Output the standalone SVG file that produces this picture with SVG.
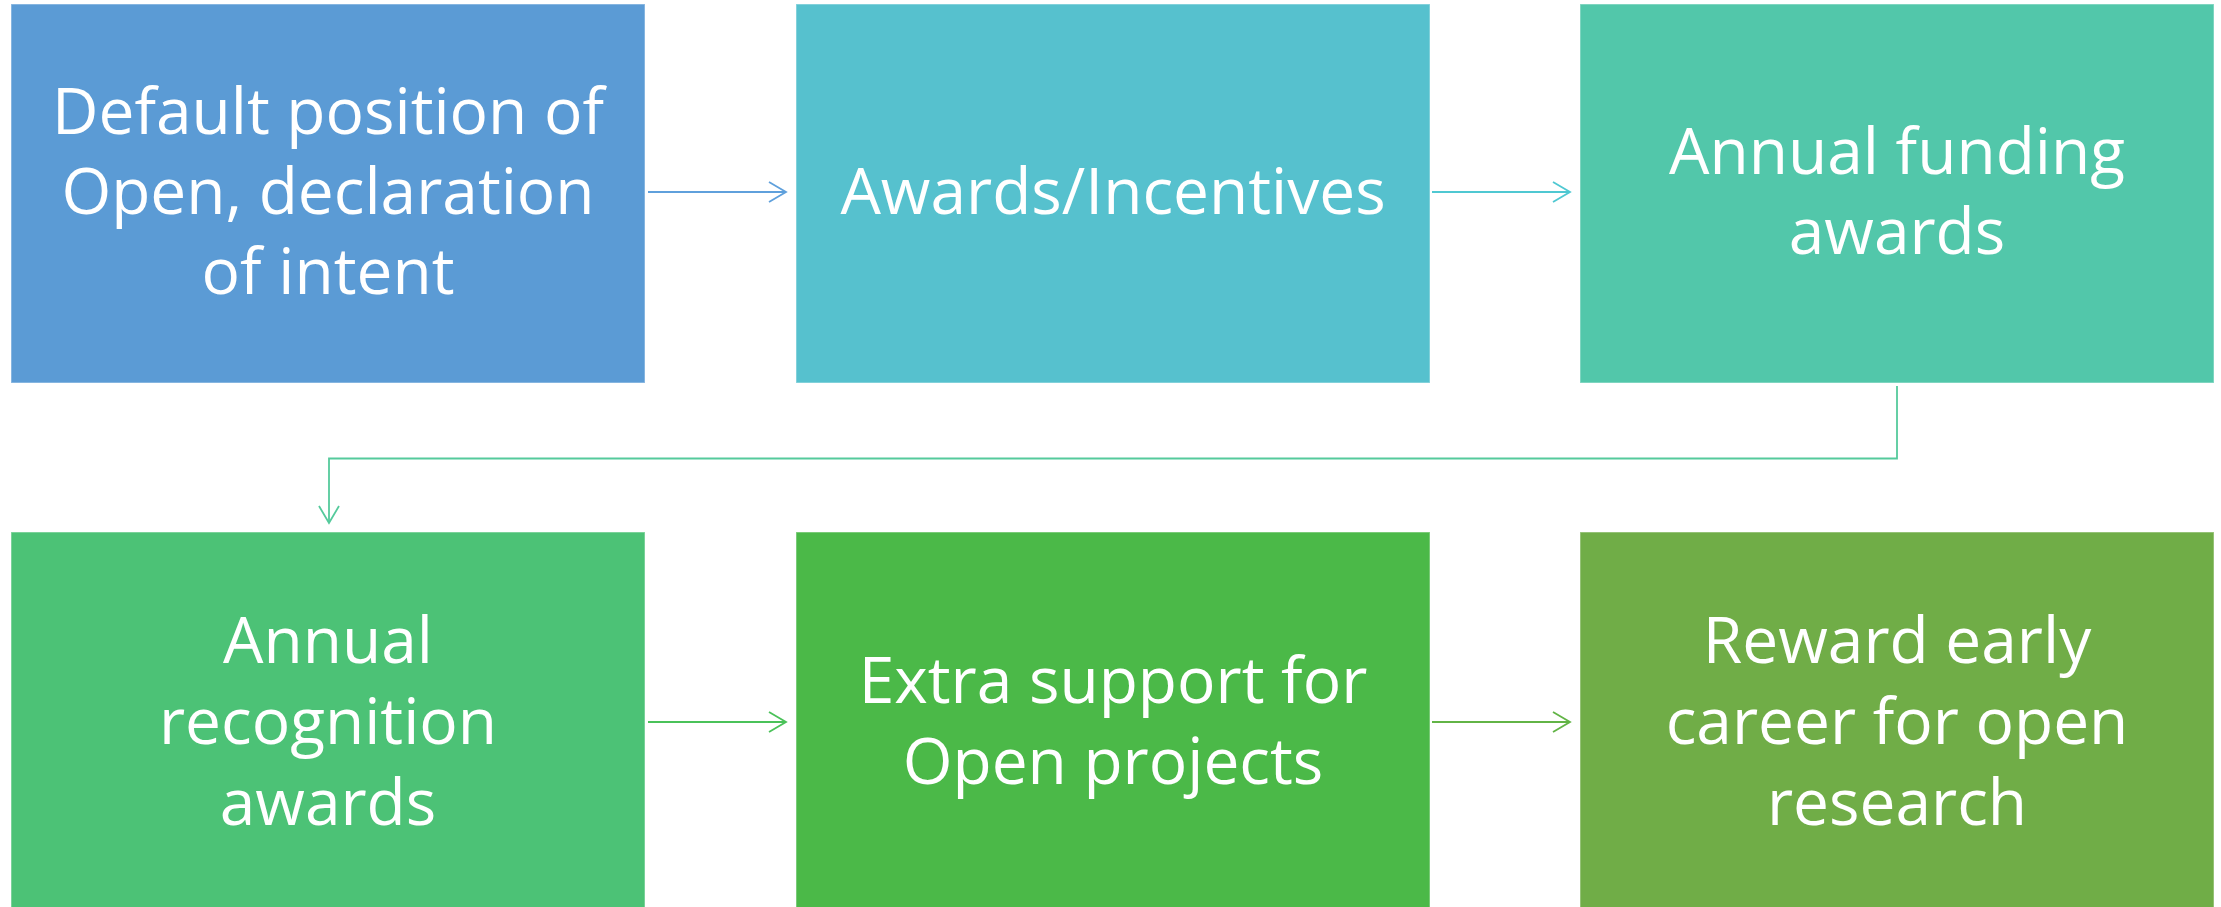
<svg xmlns="http://www.w3.org/2000/svg" width="2221" height="907" viewBox="0 0 2221 907">
  <style>
    .box { stroke: #ffffff; stroke-opacity: 0.35; stroke-width: 1.5; }
    .label { font-family: "Open Sans", "Liberation Sans", sans-serif; font-weight: 400; font-size: 64px; fill: #ffffff; text-anchor: middle; }
    .conn { fill: none; stroke-width: 1.8; }
    .head { fill: none; stroke-width: 1.8; stroke-linejoin: miter; }
  </style>
  <rect width="2221" height="907" fill="#ffffff"/>

  <!-- process steps, top row left to right, then bottom row -->
  <g id="node-default-position">
    <rect class="box" x="11" y="4" width="634" height="379" fill="#5B9BD5"/>
    <text class="label"><tspan x="328" y="134">Default position of</tspan><tspan x="328" y="214">Open, declaration</tspan><tspan x="328" y="294">of intent</tspan></text>
  </g>
  <g id="node-awards-incentives">
    <rect class="box" x="796" y="4" width="634" height="379" fill="#56C1CE"/>
    <text class="label"><tspan x="1113" y="214">Awards/Incentives</tspan></text>
  </g>
  <g id="node-annual-funding">
    <rect class="box" x="1580" y="4" width="634" height="379" fill="#52C7AA"/>
    <text class="label"><tspan x="1897" y="174">Annual funding</tspan><tspan x="1897" y="254">awards</tspan></text>
  </g>
  <g id="node-annual-recognition">
    <rect class="box" x="11" y="532" width="634" height="379" fill="#4CC276"/>
    <text class="label"><tspan x="328" y="663">Annual</tspan><tspan x="328" y="744">recognition</tspan><tspan x="328" y="825">awards</tspan></text>
  </g>
  <g id="node-extra-support">
    <rect class="box" x="796" y="532" width="634" height="379" fill="#4BB948"/>
    <text class="label"><tspan x="1113" y="703">Extra support for</tspan><tspan x="1113" y="784">Open projects</tspan></text>
  </g>
  <g id="node-reward-early-career">
    <rect class="box" x="1580" y="532" width="634" height="379" fill="#70AD47"/>
    <text class="label"><tspan x="1897" y="663">Reward early</tspan><tspan x="1897" y="744">career for open</tspan><tspan x="1897" y="825">research</tspan></text>
  </g>

  <!-- connectors with open chevron heads -->
  <g id="connectors">
    <g stroke="#5FA0DC">
      <path class="conn" d="M648 192 H786"/>
      <path class="head" d="M769 182 L786 192 L769 202"/>
    </g>
    <g stroke="#4FC8D2">
      <path class="conn" d="M1432 192 H1570"/>
      <path class="head" d="M1553 182 L1570 192 L1553 202"/>
    </g>
    <g stroke="#55CA9C">
      <path class="conn" d="M1897 386 V458.5 H329 V523"/>
      <path class="head" d="M319 506 L329 523 L339 506"/>
    </g>
    <g stroke="#4AC259">
      <path class="conn" d="M648 722 H786"/>
      <path class="head" d="M769 712 L786 722 L769 732"/>
    </g>
    <g stroke="#62B446">
      <path class="conn" d="M1432 722 H1570"/>
      <path class="head" d="M1553 712 L1570 722 L1553 732"/>
    </g>
  </g>
</svg>
